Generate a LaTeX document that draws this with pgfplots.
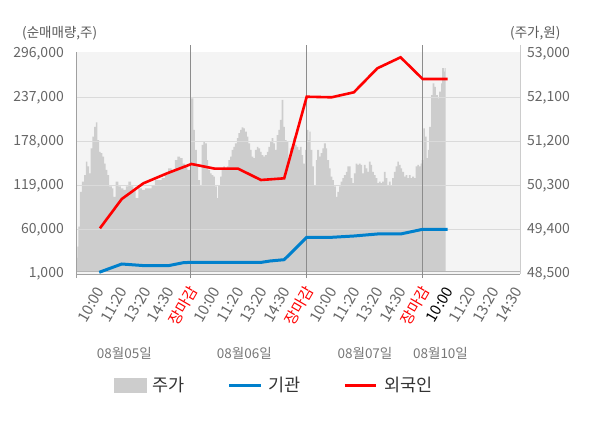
\documentclass[border=0pt]{standalone}
\usepackage{pgfplots}
\pgfplotsset{compat=1.18}
\usepackage{fontspec}
\setmainfont{Noto Sans CJK KR}
\definecolor{bgc}{HTML}{F4F4F4}
\definecolor{areac}{HTML}{CDCDCD}
\definecolor{gridc}{HTML}{DADADA}
\definecolor{sepc}{HTML}{8C8C8C}
\definecolor{axisc}{HTML}{A0A0A0}
\definecolor{line2c}{HTML}{B4B4B4}
\definecolor{rightc}{HTML}{CCCCCC}
\definecolor{redc}{HTML}{FF0000}
\definecolor{bluec}{HTML}{0080CC}
\definecolor{tickc}{HTML}{666666}
\definecolor{labc}{HTML}{595959}
\definecolor{datec}{HTML}{777777}
\definecolor{legc}{HTML}{333333}
\newcommand\tickfont{\fontsize{14bp}{16bp}\selectfont}
\newcommand\xtickfont{\fontsize{15bp}{17bp}\selectfont}
\newcommand\labfont{\fontsize{13.5bp}{16bp}\selectfont}
\newcommand\legfont{\fontsize{17.5bp}{20bp}\selectfont}
\begin{document}
\begin{tikzpicture}
\path[use as bounding box] (0,0) rectangle (600bp,428bp);
% ---------- price (right axis) ----------
\begin{axis}[
  at={(76bp,154bp)}, anchor=south west, scale only axis,
  width=444bp, height=222bp,
  xmin=0.08, xmax=19.19, ymin=48500, ymax=53040.9,
  axis x line=none, axis y line*=right, y axis line style={draw=none},
  scaled y ticks=false,
  ytick={48500,49400,50300,51200,52100,53000},
  yticklabels={{48,500},{49,400},{50,300},{51,200},{52,100},{53,000}},
  major tick length=0pt,
  /pgf/number format/assume math mode=true,
  yticklabel style={anchor=west, inner sep=0pt, xshift=7bp, font=\tickfont, text=tickc},
  axis background/.style={fill=bgc},
]
\addplot[fill=areac, draw=none, const plot] table {
x p
0.08 48830
0.14 49060
0.18 49470
0.25 50180
0.33 50390
0.43 50520
0.50 50800
0.57 50700
0.64 50560
0.71 51070
0.78 51310
0.86 51510
0.93 51600
1.00 51240
1.07 51000
1.14 50970
1.21 50900
1.29 50760
1.36 50630
1.43 50520
1.51 50290
1.62 50250
1.69 50080
1.79 50390
1.90 50290
2.01 50250
2.12 50220
2.23 50290
2.33 50390
2.45 50290
2.55 50220
2.65 50050
2.76 50250
2.91 50220
3.05 50250
3.19 50250
3.34 50320
3.48 50420
3.62 50420
3.77 50460
3.91 50520
4.05 50660
4.20 50630
4.34 50830
4.44 50900
4.56 50870
4.67 50760
4.77 50700
4.87 50630
4.98 50630
5.04 52090
5.13 51450
5.20 51040
5.28 50700
5.34 50420
5.42 50320
5.49 51140
5.56 51210
5.63 51170
5.71 50830
5.77 50630
5.85 50560
5.92 50520
5.99 50490
6.06 50290
6.14 50050
6.20 50320
6.28 50490
6.35 50660
6.42 50700
6.49 50630
6.57 50700
6.64 50830
6.71 50900
6.78 51040
6.85 51100
6.92 51170
7.00 51280
7.07 51380
7.14 51450
7.21 51500
7.28 51480
7.35 51410
7.43 51310
7.50 51170
7.57 51040
7.64 50900
7.71 50870
7.78 51040
7.86 51100
7.93 51070
8.00 51000
8.07 50930
8.14 50900
8.21 50930
8.29 51000
8.36 51100
8.43 51210
8.50 51280
8.57 51170
8.64 51040
8.72 51340
8.79 51450
8.86 51650
8.93 52060
9.00 51510
9.07 51240
9.15 51210
9.22 50830
9.29 51070
9.36 51100
9.43 51280
9.51 51140
9.58 51100
9.65 51040
9.72 51100
9.79 50930
9.86 50760
9.94 51040
10.01 51450
10.08 51240
10.12 51410
10.18 51040
10.25 50700
10.32 50320
10.40 50830
10.46 51040
10.54 50900
10.61 50970
10.68 51070
10.75 51170
10.83 51070
10.89 50830
10.97 50660
11.04 50490
11.11 50420
11.18 50290
11.26 50080
11.33 50180
11.40 50290
11.47 50390
11.54 50460
11.61 50520
11.69 50590
11.76 50700
11.83 50700
11.90 50460
11.97 50360
12.04 50560
12.12 50760
12.19 50730
12.26 50760
12.33 50730
12.40 50560
12.47 50730
12.55 50660
12.62 50590
12.69 50800
12.76 50730
12.83 50590
12.90 50520
12.98 50460
13.05 50360
13.12 50390
13.19 50360
13.26 50390
13.33 50590
13.41 50460
13.48 50320
13.55 50390
13.62 50320
13.69 50460
13.76 50590
13.84 50700
13.91 50800
13.98 50730
14.05 50660
14.12 50590
14.20 50490
14.27 50520
14.34 50460
14.41 50520
14.48 50460
14.55 50490
14.63 50460
14.70 50700
14.77 50730
14.84 50700
14.91 50760
14.96 50830
15.03 51480
15.10 51310
15.17 50870
15.22 51040
15.28 51510
15.36 52160
15.43 52400
15.50 52330
15.57 52160
15.65 52090
15.71 52230
15.79 52400
15.84 52710
15.92 52640
15.96 52710
15.99 52710
} \closedcycle;
\end{axis}
% ---------- net buying (left axis) ----------
\begin{axis}[
  at={(76bp,154bp)}, anchor=south west, scale only axis,
  width=444bp, height=222bp,
  xmin=0.08, xmax=19.19, ymin=1000, ymax=298680,
  axis x line*=bottom, axis y line*=left, axis line style={draw=none},
  clip=false,
  scaled y ticks=false, scaled x ticks=false,
  major tick length=0pt,
  /pgf/number format/assume math mode=true,
  xtick={1,2,3,4,5,6,7,8,9,10,11,12,13,14,15,16,17,18,19},
  xticklabels={10:00,11:20,13:20,14:30,\textcolor{redc}{장마감},
               10:00,11:20,13:20,14:30,\textcolor{redc}{장마감},
               10:00,11:20,13:20,14:30,\textcolor{redc}{장마감},
               \textcolor{black}{10:00},11:20,13:20,14:30},
  xticklabel style={xshift=3bp, yshift=-14bp, rotate=60, anchor=east, inner sep=0pt, font=\xtickfont, text=tickc},
  ytick={1000,60000,119000,178000,237000,296000},
  yticklabels={{1,000},{60,000},{119,000},{178,000},{237,000},{296,000}},
  yticklabel style={anchor=east, inner sep=0pt, xshift=-12bp, font=\tickfont, text=tickc},
  legend columns=3,
  legend cell align=left,
  legend image code/.code={\draw[#1] (0bp,0bp) -- (31.6bp,0bp);},
  legend style={at={(0.0863,-0.502)}, anchor=west, draw=none, fill=none,
    inner sep=0pt, outer sep=0pt, font=\legfont, text=legc,
    nodes={inner sep=0pt},
    /tikz/every odd column/.append style={column sep=6.5bp},
    /tikz/every even column/.append style={column sep=42.7bp}},
]
% background decorations
\fill[bgc] (axis cs:0.08,1000) rectangle ([yshift=2.3bp]axis cs:19.19,1000);
\draw[gridc, line width=1bp] (axis cs:0.08,60000) -- (axis cs:19.19,60000);
\draw[gridc, line width=1bp] (axis cs:0.08,119000) -- (axis cs:19.19,119000);
\draw[gridc, line width=1bp] (axis cs:0.08,178000) -- (axis cs:19.19,178000);
\draw[gridc, line width=1bp] (axis cs:0.08,237000) -- (axis cs:19.19,237000);
\draw[line2c, line width=1bp] ([yshift=2.3bp]axis cs:0.08,1000) -- ([yshift=2.3bp]axis cs:19.19,1000);
\draw[axisc, line width=1bp] (axis cs:0.08,1000) -- (axis cs:19.19,1000);
\draw[axisc, line width=1bp] ([yshift=-4bp]axis cs:0.08,1000) -- (axis cs:0.08,298680);
\draw[rightc, line width=1bp] (axis cs:19.19,1000) -- ([yshift=7bp]axis cs:19.19,298680);
\draw[sepc, line width=1bp] ([yshift=-4bp]axis cs:5,1000) -- ([yshift=7bp]axis cs:5,298680);
\draw[sepc, line width=1bp] ([yshift=-4bp]axis cs:10,1000) -- ([yshift=7bp]axis cs:10,298680);
\draw[sepc, line width=1bp] ([yshift=-4bp]axis cs:15,1000) -- ([yshift=7bp]axis cs:15,298680);

\addlegendimage{legend image code/.code={\fill[areac] (0bp,-7.2bp) rectangle (31.4bp,7.2bp);}}
\addlegendentry{주가}

\addplot[bluec, line width=3bp] table {
x v
1.08 3280
2.05 14410
3.05 12130
4.05 12130
4.70 16150
5.05 16700
6.06 16700
7.06 16700
8.07 16700
8.43 18430
9.04 20200
10.01 50200
11.08 50200
12.04 51950
13.05 54640
14.05 54640
15.00 60940
16.08 60940
};
\addlegendentry{기관\hspace{22.4bp}}

\addplot[redc, line width=2.6bp] table {
x v
1.11 62280
2.05 101570
2.98 122620
4.00 136000
5.05 148500
6.06 142200
7.06 142200
8.04 127040
9.04 129300
10.01 238700
11.08 237940
12.04 244640
13.05 276820
14.05 291570
15.00 262480
16.08 262480
};
\addlegendentry{외국인}
\end{axis}
% ---------- texts ----------
\node[anchor=west, inner sep=0pt, font=\labfont, text=labc] at (22bp,395bp) {(순매매량,주)};
\node[anchor=west, inner sep=0pt, font=\labfont, text=labc] at (510bp,395bp) {(주가,원)};
\node[font=\labfont, text=datec] at (124.3bp,74.7bp) {08월05일};
\node[font=\labfont, text=datec] at (244.3bp,74.7bp) {08월06일};
\node[font=\labfont, text=datec] at (365bp,74.7bp) {08월07일};
\node[font=\labfont, text=datec] at (440.5bp,74.7bp) {08월10일};
\end{tikzpicture}
\end{document}
